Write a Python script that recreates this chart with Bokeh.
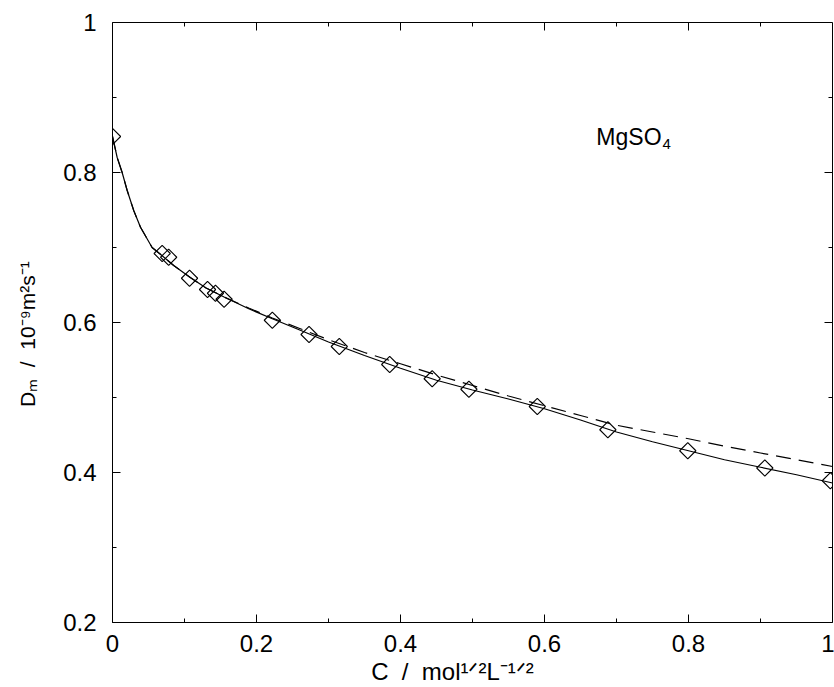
import math
from bokeh.plotting import figure
from bokeh.models import Range1d, FixedTicker, Label
from bokeh.embed import file_html
from bokeh.resources import INLINE

# ---- data ----
x_pts = [0.0, 0.069, 0.078, 0.107, 0.132, 0.143, 0.155, 0.222, 0.273, 0.315,
         0.385, 0.444, 0.495, 0.590, 0.688, 0.799, 0.906, 0.997]
y_pts = [0.848, 0.692, 0.687, 0.659, 0.644, 0.639, 0.631, 0.603, 0.584, 0.568,
         0.544, 0.525, 0.511, 0.488, 0.457, 0.429, 0.406, 0.389]

fit_x = [0.0, 0.0065, 0.0134, 0.0204, 0.0296, 0.0389, 0.055, 0.069, 0.085, 0.108,
         0.13, 0.155, 0.19, 0.222, 0.26, 0.3, 0.35, 0.4, 0.45, 0.5,
         0.55, 0.6, 0.65, 0.7, 0.75, 0.8, 0.85, 0.9, 0.95, 1.0]
solid_y = [0.848, 0.820, 0.800, 0.776, 0.749, 0.727, 0.700, 0.689, 0.676, 0.660,
           0.646, 0.634, 0.618, 0.605, 0.590, 0.574, 0.556, 0.539, 0.523, 0.510,
           0.498, 0.485, 0.470, 0.454, 0.441, 0.429, 0.417, 0.407, 0.397, 0.386]
dashed_y = [0.848, 0.820, 0.800, 0.776, 0.749, 0.727, 0.700, 0.689, 0.676, 0.660,
            0.646, 0.634, 0.619, 0.606, 0.592, 0.577, 0.560, 0.545, 0.530, 0.516,
            0.502, 0.489, 0.476, 0.463, 0.454, 0.445, 0.435, 0.426, 0.417, 0.408]

x_ticks = [0.0, 0.2, 0.4, 0.6, 0.8, 1.0]
x_tick_labels = ["0", "0.2", "0.4", "0.6", "0.8", "1"]
x_minor = [0.1, 0.3, 0.5, 0.7, 0.9]
y_ticks = [0.2, 0.4, 0.6, 0.8, 1.0]
y_tick_labels = ["0.2", "0.4", "0.6", "0.8", "1"]
y_minor = [0.3, 0.5, 0.7, 0.9]

NB = "\u00a0"
x_title = "C" + NB * 2 + "/" + NB * 2 + "mol\u00b9\u141f\u00b2L\u207b\u00b9\u141f\u00b2" + NB * 6
y_title = "D\u2098" + NB * 2 + "/" + NB * 2 + "10\u207b\u2079m\u00b2s\u207b\u00b9" + NB * 4
annot_parts = [("MgSO", 0), ("4", -1)]

FONT = "Liberation Sans"
W_FIG, H_FIG = 834, 687
B_LEFT, B_RIGHT, B_TOP, B_BOTTOM = 112, 2, 22, 65
frame_w = W_FIG - B_LEFT - B_RIGHT
frame_h = H_FIG - B_TOP - B_BOTTOM

X0, X1, Y0, Y1 = 0.0, 1.0, 0.2, 1.0
sx = frame_w / (X1 - X0)   # px per data unit
sy = frame_h / (Y1 - Y0)

p = figure(width=W_FIG, height=H_FIG, x_range=Range1d(X0, X1), y_range=Range1d(Y0, Y1),
           output_backend="svg", toolbar_location=None,
           min_border_left=B_LEFT, min_border_right=B_RIGHT,
           min_border_top=B_TOP, min_border_bottom=B_BOTTOM)
p.xgrid.grid_line_color = None
p.ygrid.grid_line_color = None
p.outline_line_color = "black"
p.outline_line_width = 1
p.background_fill_color = "white"
p.border_fill_color = "white"


def style_axis(ax, ticks, labels, standoff):
    ax.ticker = FixedTicker(ticks=ticks, minor_ticks=[])
    ax.major_tick_in = 0
    ax.major_tick_out = 0
    ax.minor_tick_in = 0
    ax.minor_tick_out = 0
    ax.axis_line_color = "black"
    ax.major_label_overrides = {t: l for t, l in zip(ticks, labels)}
    ax.major_label_text_font = FONT
    ax.major_label_text_font_size = "24px"
    ax.major_label_text_color = "black"
    ax.major_label_standoff = standoff


style_axis(p.xaxis[0], x_ticks, x_tick_labels, 12)
style_axis(p.yaxis[0], y_ticks, y_tick_labels, 16)

p.xaxis[0].axis_label = x_title
p.xaxis[0].axis_label_text_font = FONT
p.xaxis[0].axis_label_text_font_size = "24px"
p.xaxis[0].axis_label_text_font_style = "normal"
p.xaxis[0].axis_label_text_color = "black"
p.xaxis[0].axis_label_standoff = 3

p.yaxis[0].axis_label = y_title
p.yaxis[0].axis_label_text_font = FONT
p.yaxis[0].axis_label_text_font_size = "21px"
p.yaxis[0].axis_label_text_font_style = "normal"
p.yaxis[0].axis_label_text_color = "black"
p.yaxis[0].axis_label_standoff = 21

# tick marks drawn inside the frame on all four sides
MAJ, MIN = 8, 4
p.segment(x0=x_ticks, y0=[Y0] * len(x_ticks), x1=x_ticks, y1=[Y0 + MAJ / sy] * len(x_ticks),
          line_color="black", line_width=1)
p.segment(x0=x_ticks, y0=[Y1] * len(x_ticks), x1=x_ticks, y1=[Y1 - MAJ / sy] * len(x_ticks),
          line_color="black", line_width=1)
p.segment(x0=x_minor, y0=[Y0] * len(x_minor), x1=x_minor, y1=[Y0 + MIN / sy] * len(x_minor),
          line_color="black", line_width=1)
p.segment(x0=x_minor, y0=[Y1] * len(x_minor), x1=x_minor, y1=[Y1 - MIN / sy] * len(x_minor),
          line_color="black", line_width=1)
p.segment(x0=[X0] * len(y_ticks), y0=y_ticks, x1=[X0 + MAJ / sx] * len(y_ticks), y1=y_ticks,
          line_color="black", line_width=1)
p.segment(x0=[X1] * len(y_ticks), y0=y_ticks, x1=[X1 - MAJ / sx] * len(y_ticks), y1=y_ticks,
          line_color="black", line_width=1)
p.segment(x0=[X0] * len(y_minor), y0=y_minor, x1=[X0 + MIN / sx] * len(y_minor), y1=y_minor,
          line_color="black", line_width=1)
p.segment(x0=[X1] * len(y_minor), y0=y_minor, x1=[X1 - MIN / sx] * len(y_minor), y1=y_minor,
          line_color="black", line_width=1)

# curves and points
p.line(fit_x, dashed_y, line_color="black", line_width=1.2, line_dash="15 8")
p.line(fit_x, solid_y, line_color="black", line_width=1.2)
p.scatter(x_pts, y_pts, marker="square", size=11.5, angle=math.pi / 4,
          fill_color=None, line_color="black", line_width=1.1)

# ---- annotation inside the frame ----
WID = {'M': 0.833, 'g': 0.556, 'S': 0.667, 'O': 0.778, '4': 0.556}


def tw(s, size):
    return sum(WID.get(c, 0.556) for c in s) * size


def compose(parts, x, y, main, small, sub_shift):
    off = 0.0
    for txt, kind in parts:
        size = main if kind == 0 else small
        shift = 0 if kind == 0 else -sub_shift
        p.add_layout(Label(x=x + off / sx, y=y + shift / sy, text=txt,
                           text_font=FONT, text_font_size=f"{size}px",
                           text_color="black", text_align="left",
                           text_baseline="alphabetic"))
        off += tw(txt, size) + (1 if kind == 0 else 0)


compose(annot_parts, 0.672, 0.847, 23, 15, 7)

open("out.html", "w").write(file_html(p, INLINE))
